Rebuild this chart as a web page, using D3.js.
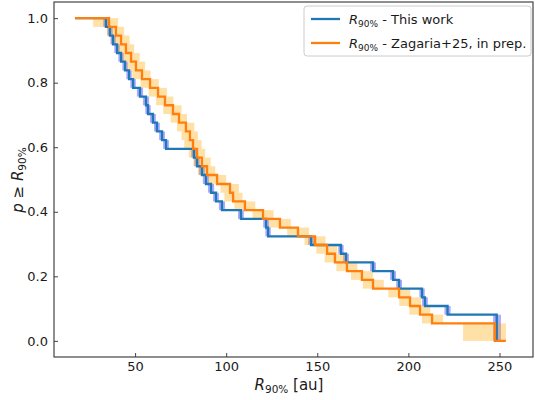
<!DOCTYPE html>
<html>
<head>
<meta charset="utf-8">
<script src="https://cdn.jsdelivr.net/npm/d3@7"></script>
<style>
  body { margin: 0; background: #fff; }
  text { font-family: "DejaVu Sans", sans-serif; fill: #1a1a1a; }
</style>
</head>
<body>
<svg id="chart" width="535" height="400"></svg>
<script>
// Survival curves p(>= R90%): drop positions (au) and the level after each drop.
const blueR = [17, 34.0, 36.2, 37.9, 40.1, 42.3, 44.5, 46.7, 48.9, 52.7, 56.0, 57.1, 59.8, 62.0, 64.8, 67.0,
  82.3, 84.0, 86.7, 88.9, 91.7, 94.4, 97.7, 108.1, 121.9, 123.0, 146.6, 163.0, 165.8, 180.6, 191.6, 194.9,
  207.5, 209.1, 221.5, 248.5];
const blueP = [1.000, 0.973, 0.946, 0.919, 0.892, 0.865, 0.838, 0.811, 0.784, 0.757, 0.730, 0.703, 0.676, 0.649, 0.622, 0.595,
  0.568, 0.541, 0.514, 0.486, 0.459, 0.432, 0.405, 0.378, 0.351, 0.324, 0.297, 0.270, 0.243, 0.216, 0.189, 0.162,
  0.135, 0.108, 0.081, 0.000];
const blueEnd = 249.5;
// Uncertainty range of each drop (one entry per drop after the first point)
const blueLo = [32.5, 34.8, 36.5, 38.6, 40.8, 43.0, 45.2, 47.4, 51.0, 54.3, 55.6, 58.2, 60.4, 63.2, 65.4,
  80.8, 82.5, 85.0, 87.2, 90.0, 92.8, 96.0, 106.5, 120.3, 121.5, 145.0, 161.5, 164.2, 179.0, 190.0, 193.3,
  206.0, 207.5, 219.8, 246.5];
const blueHi = [35.5, 37.8, 39.5, 41.6, 43.8, 46.0, 48.2, 50.4, 54.4, 57.7, 58.6, 61.4, 63.6, 66.4, 68.6,
  83.8, 85.5, 88.4, 90.6, 93.4, 96.0, 99.4, 109.7, 123.5, 124.5, 148.2, 164.5, 167.4, 182.2, 193.2, 196.5,
  209.0, 210.7, 223.2, 250.8];

const orangeR = [17, 35.7, 39.5, 42.3, 45.0, 47.8, 50.5, 53.8, 58.2, 62.6, 66.4, 70.8, 74.1, 77.9, 80.1, 81.8,
  84.0, 86.7, 89.5, 95.0, 102.1, 103.8, 110.3, 120.2, 129.5, 139.4, 148.8, 155.4, 159.7, 166.3, 174.5, 180.6,
  194.9, 200.9, 206.4, 213.0, 247.5];
const orangeP = [1.000, 0.973, 0.946, 0.919, 0.892, 0.865, 0.838, 0.811, 0.784, 0.757, 0.730, 0.703, 0.676, 0.649, 0.622, 0.595,
  0.568, 0.541, 0.514, 0.486, 0.459, 0.432, 0.405, 0.378, 0.351, 0.324, 0.297, 0.270, 0.243, 0.216, 0.189, 0.162,
  0.135, 0.108, 0.081, 0.054, 0.000];
const orangeEnd = 253.5;
const orangeLo = [27.0, 34.5, 37.0, 40.0, 43.0, 45.5, 48.5, 53.0, 57.5, 61.5, 65.5, 69.5, 73.0, 75.5, 77.0,
  79.5, 82.0, 84.5, 90.0, 97.0, 99.0, 104.5, 114.5, 123.5, 133.5, 143.0, 149.5, 154.0, 160.5, 168.5, 175.0,
  189.0, 195.0, 200.5, 207.5, 230.0];
const orangeHi = [40.7, 44.0, 47.0, 49.5, 52.5, 55.5, 58.5, 63.0, 67.5, 71.0, 75.5, 78.5, 82.5, 84.5, 86.5,
  88.5, 91.5, 94.0, 100.0, 107.0, 109.0, 116.0, 126.0, 135.5, 145.5, 154.5, 161.0, 165.5, 172.0, 180.5, 186.5,
  201.0, 207.0, 212.0, 219.0, 253.5];

const xTicks = [50, 100, 150, 200, 250];
const yTicks = [0.0, 0.2, 0.4, 0.6, 0.8, 1.0];

const svg = d3.select("#chart");
const plot = { left: 54, right: 533, top: 2, bottom: 357 };

const x = d3.scaleLinear().domain([5.5, 268.4]).range([plot.left, plot.right]);
const y = d3.scaleLinear().domain([-0.05, 1.05]).range([plot.bottom, plot.top]);

// Shaded uncertainty rectangles for every drop of a curve
function bands(R, P, lo, hi, fill, opacity) {
  const rects = lo.map((l, i) => ({ lo: l, hi: hi[i], top: P[i], bot: P[i + 1] }));
  svg.append("g").selectAll("rect").data(rects).join("rect")
    .attr("x", d => x(d.lo))
    .attr("width", d => x(d.hi) - x(d.lo))
    .attr("y", d => y(d.top))
    .attr("height", d => y(d.bot) - y(d.top))
    .attr("fill", fill)
    .attr("fill-opacity", opacity);
}

function curve(R, P, end, color) {
  const pts = R.map((r, i) => [r, P[i]]);
  pts.push([end, P[P.length - 1]]);
  const line = d3.line().x(d => x(d[0])).y(d => y(d[1])).curve(d3.curveStepAfter);
  svg.append("path").attr("d", line(pts))
    .attr("fill", "none").attr("stroke", color).attr("stroke-width", 2.3)
    .attr("stroke-linejoin", "miter");
}

bands(blueR, blueP, blueLo, blueHi, "#0000ff", 0.33);
bands(orangeR, orangeP, orangeLo, orangeHi, "#ffa500", 0.35);
curve(blueR, blueP, blueEnd, "#1f77b4");
curve(orangeR, orangeP, orangeEnd, "#ff7f0e");

// Axes, ticks pointing into the plot
const xAxis = d3.axisBottom(x).tickValues(xTicks).tickFormat(d3.format("d")).tickSize(-4).tickPadding(5);
const yAxis = d3.axisLeft(y).tickValues(yTicks).tickFormat(d3.format(".1f")).tickSize(-4).tickPadding(6);
const gx = svg.append("g").attr("transform", `translate(0,${plot.bottom})`).call(xAxis);
const gy = svg.append("g").attr("transform", `translate(${plot.left},0)`).call(yAxis);
[gx, gy].forEach(g => {
  g.select(".domain").remove();
  g.selectAll("line").attr("stroke", "#444");
  g.selectAll("text").attr("font-size", 13).attr("fill", "#1a1a1a")
    .attr("font-family", "DejaVu Sans, sans-serif");
});

svg.append("rect")
  .attr("x", plot.left).attr("y", plot.top)
  .attr("width", plot.right - plot.left).attr("height", plot.bottom - plot.top)
  .attr("fill", "none").attr("stroke", "#444").attr("stroke-width", 1.2);

// Axis labels
const xl = svg.append("text").attr("x", 289).attr("y", 390)
  .attr("text-anchor", "middle").attr("font-size", 15);
xl.append("tspan").attr("font-style", "italic").text("R");
xl.append("tspan").attr("font-size", 10.5).attr("dy", 3).text("90%");
xl.append("tspan").attr("dy", -3).text(" [au]");

const yl = svg.append("text")
  .attr("transform", `translate(23,180) rotate(-90)`)
  .attr("text-anchor", "middle").attr("font-size", 15);
yl.append("tspan").attr("font-style", "italic").text("p");
yl.append("tspan").text(" ≥ ");
yl.append("tspan").attr("font-style", "italic").text("R");
yl.append("tspan").attr("font-size", 10.5).attr("dy", 3).text("90%");

// Legend
const legend = svg.append("g");
legend.append("rect").attr("x", 304).attr("y", 6).attr("width", 227).attr("height", 50)
  .attr("rx", 3).attr("fill", "#fff").attr("fill-opacity", 0.85)
  .attr("stroke", "#cccccc").attr("stroke-width", 1);
const entries = [
  { color: "#1f77b4", text: " - This work" },
  { color: "#ff7f0e", text: " - Zagaria+25, in prep." }
];
entries.forEach((e, i) => {
  const yy = 19 + i * 24;
  legend.append("line").attr("x1", 311).attr("x2", 340).attr("y1", yy).attr("y2", yy)
    .attr("stroke", e.color).attr("stroke-width", 2.3);
  const t = legend.append("text").attr("x", 349).attr("y", yy + 5).attr("font-size", 13);
  t.append("tspan").attr("font-style", "italic").text("R");
  t.append("tspan").attr("font-size", 9).attr("dy", 3).text("90%");
  t.append("tspan").attr("dy", -3).text(e.text);
});
</script>
</body>
</html>
